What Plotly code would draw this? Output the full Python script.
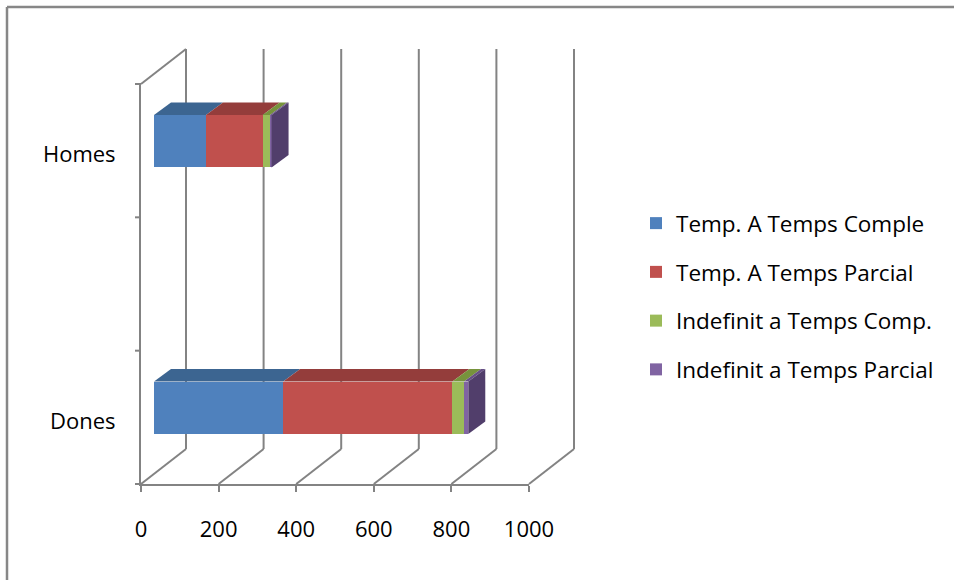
import plotly.graph_objects as go

# ---------------- data ----------------
axis_slots = ["Dones", "", "Homes"]          # category slots on the axis (middle slot blank)
categories = ["Dones", "Homes"]
series_names = ["Temp. A Temps Comple", "Temp. A Temps Parcial",
                "Indefinit a Temps Comp.", "Indefinit a Temps Parcial"]
temp_complet = [333, 134]
temp_parcial = [436, 146]
indef_complet = [30, 19]
indef_parcial = [11, 4]
x_ticks = [0, 200, 400, 600, 800, 1000]

series_values = [temp_complet, temp_parcial, indef_complet, indef_parcial]
front_colors = ["#4F81BD", "#C0504D", "#9BBB59", "#8064A2"]
top_colors = ["#3C6591", "#943D3B", "#77933C", "#674F86"]
side_colors = ["#3A5F8A", "#8A3836", "#6F8A38", "#513E6B"]

# ---------------- geometry (pixels) ----------------
W, H = 954, 580
X0, X1 = 141, 529          # front plane: value 0 .. 1000
YB, YT = 484, 84           # front plane: bottom/top of the category axis
PX_PER_UNIT = (X1 - X0) / 1000.0
PX_PER_CAT = (YB - YT) / 3.0
BAR_SHIFT = (13, -9.5)     # bar front face relative to front plane
BAR_DEPTH = (17, -12.5)    # bar depth (oblique)
WALL_DEPTH = (45, -35)     # full depth of floor / side wall
GRID = "#838383"
FONT = "Open Sans"
FSIZE = 22

def px(x):
    return x / W

def py(y):
    return 1 - y / H

positions = [axis_slots.index(c) for c in categories]

fig = go.Figure()

# empty trace so the front-plane axes are drawn
fig.add_trace(go.Scatter(x=[], y=[], xaxis="x", yaxis="y", showlegend=False,
                         hoverinfo="skip"))

for name, vals, col in zip(series_names, series_values, front_colors):
    fig.add_trace(go.Bar(
        name=name, legendgroup=name, orientation="h",
        x=vals, y=positions, width=52.5 / PX_PER_CAT,
        marker=dict(color=col, line=dict(width=0)),
        xaxis="x2", yaxis="y2", hoverinfo="x+name",
    ))

shapes = []

def line(x0, y0, x1, y1, w=2, color=GRID):
    shapes.append(dict(type="line", xref="paper", yref="paper",
                       x0=px(x0), y0=py(y0), x1=px(x1), y1=py(y1),
                       line=dict(color=color, width=w), layer="below"))

# chart border (top and left)
line(7, 7, W, 7, w=2.5, color="#878787")
line(7, 7, 7, H, w=2.5, color="#878787")

# side wall: top edge, and category tick marks
line(X0, YT, X0 + WALL_DEPTH[0], YT + WALL_DEPTH[1])
for k in range(4):
    yk = YB - k * PX_PER_CAT
    line(X0 - 6, yk, X0, yk)

# floor diagonals and back-wall gridlines
for v in x_ticks:
    xf = X0 + v * PX_PER_UNIT
    xb = xf + WALL_DEPTH[0]
    yb = YB + WALL_DEPTH[1]
    line(xf, YB, xb, yb)
    line(xb, yb, xb, YT + WALL_DEPTH[1])

# 3-D faces of the stacked bars (in bar data coordinates)
dxu = BAR_DEPTH[0] / PX_PER_UNIT
dyu = -BAR_DEPTH[1] / PX_PER_CAT
half = 52.5 / PX_PER_CAT / 2
for i, pos in enumerate(positions):
    start = 0
    top = pos + half
    bot = pos - half
    for s, vals in enumerate(series_values):
        end = start + vals[i]
        path = (f"M {start},{top} L {end},{top} L {end + dxu},{top + dyu} "
                f"L {start + dxu},{top + dyu} Z")
        shapes.append(dict(type="path", xref="x2", yref="y2", path=path,
                           fillcolor=top_colors[s], line=dict(width=0), layer="above"))
        start = end
    last = len(series_values) - 1
    path = (f"M {start},{bot} L {start},{top} L {start + dxu},{top + dyu} "
            f"L {start + dxu},{bot + dyu} Z")
    shapes.append(dict(type="path", xref="x2", yref="y2", path=path,
                       fillcolor=side_colors[last], line=dict(width=0), layer="above"))

shift_x_units = BAR_SHIFT[0] / PX_PER_UNIT
shift_y_units = -BAR_SHIFT[1] / PX_PER_CAT
xdom = [px(X0), px(X1)]
ydom = [py(YB), py(YT)]

fig.update_layout(
    width=W, height=H, autosize=False,
    margin=dict(l=0, r=0, t=0, b=0, autoexpand=False),
    paper_bgcolor="white", plot_bgcolor="rgba(0,0,0,0)",
    barmode="stack", bargap=0,
    font=dict(family=FONT, size=FSIZE, color="#000000"),
    showlegend=True,
    legend=dict(x=px(636), y=py(202), xanchor="left", yanchor="top",
                traceorder="grouped", tracegroupgap=16.5,
                font=dict(family=FONT, size=22.5, color="#000000"),
                bgcolor="rgba(0,0,0,0)", borderwidth=0),
    xaxis=dict(domain=xdom, range=[0, 1000], anchor="y",
               tickvals=x_ticks, ticktext=[str(v) for v in x_ticks],
               ticks="outside", ticklen=6, tickwidth=2, tickcolor=GRID,
               showline=True, linecolor=GRID, linewidth=2,
               showgrid=False, zeroline=False, ticklabelstandoff=19,
               tickfont=dict(family=FONT, size=FSIZE, color="#000000"),
               fixedrange=True),
    yaxis=dict(domain=ydom, range=[-0.5, 2.5], anchor="x",
               tickvals=positions, ticktext=categories, ticks="",
               showline=True, linecolor=GRID, linewidth=2,
               showgrid=False, zeroline=False, ticklabelstandoff=19,
               ticklabelshift=4,
               tickfont=dict(family=FONT, size=FSIZE, color="#000000"),
               fixedrange=True),
    xaxis2=dict(domain=xdom, anchor="y2",
                range=[-shift_x_units, 1000 - shift_x_units],
                visible=False, fixedrange=True),
    yaxis2=dict(domain=ydom, anchor="x2",
                range=[-0.5 - shift_y_units, 2.5 - shift_y_units],
                visible=False, fixedrange=True),
    shapes=shapes,
)

fig.write_html("out.html")
